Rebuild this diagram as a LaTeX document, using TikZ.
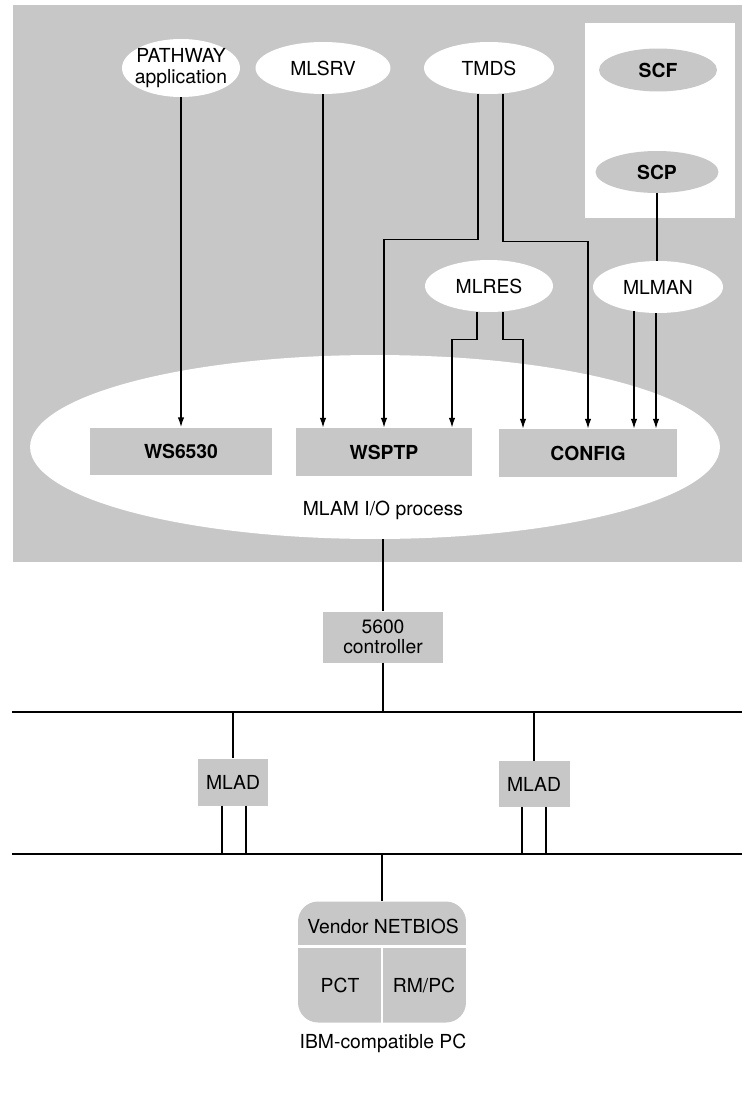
\documentclass[tikz,border=0pt]{standalone}
\usepackage{fontspec}
\setmainfont{TeX Gyre Heros}
\usetikzlibrary{arrows.meta,positioning,shapes.geometric,calc}
\definecolor{dither}{gray}{0.78}

\begin{document}
\begin{tikzpicture}[x=0.02cm, y=-0.02cm,
  font=\fontsize{11}{11.5}\selectfont,
  oval/.style={ellipse, fill=white, inner sep=0pt, align=center},
  gryoval/.style={ellipse, fill=dither, inner sep=0pt,
                  font=\fontsize{11}{11.5}\selectfont\bfseries},
  pbox/.style={rectangle, fill=dither, inner sep=0pt, align=center},
  heavy/.style={font=\fontsize{11}{11.5}\selectfont\bfseries},
  arr/.style={-{Latex[length=5.5pt,width=3.6pt]}, line width=0.7pt},
  wire/.style={line width=0.7pt},
  gap/.style={draw=white, line width=1.6pt}
]
\useasboundingbox (0,0) rectangle (742,1112);

% Host area
\fill[dither] (13,5) rectangle (742,562);
\fill[white] (585,23) rectangle (735,218);
\node[oval, minimum width=13.8cm, minimum height=3.68cm] (mlam) at (375,447) {};
\node (mlamlbl) at (383,510) {MLAM I/O process};

% Processes inside MLAM
\node[pbox, heavy, minimum width=3.64cm, minimum height=0.94cm] (ws)     at (181,451) {WS6530};
\node[pbox, heavy, minimum width=3.54cm, minimum height=0.96cm] (wsptp)  at (384,452) {WSPTP};
\node[pbox, heavy, minimum width=3.56cm, minimum height=0.96cm] (config) at (588,453) {CONFIG};

% Requesters and servers
\node[oval, inner xsep=-3.5pt, minimum width=2.36cm, minimum height=1.16cm] (pathway) at (181,68)
  {PATHWAY\\application};
\node[oval, minimum width=2.7cm, minimum height=1.04cm]  (mlsrv) at (323,68) {MLSRV};
\node[oval, minimum width=2.6cm, minimum height=1.04cm]  (tmds)  at (489,68) {TMDS};
\node[oval, minimum width=2.56cm, minimum height=1.04cm] (mlres) at (489,286) {MLRES};
\node[oval, minimum width=2.6cm, minimum height=1.04cm]  (mlman) at (658,287) {MLMAN};

% SCF / SCP
\node[gryoval, minimum width=2.36cm, minimum height=0.86cm] (scf) at (658,70) {SCF};
\node[gryoval, minimum width=2.46cm, minimum height=0.84cm] (scp) at (657,172) {SCP};

% Arrows
\draw[arr] (pathway.south) -- (ws.north);
\draw[arr] (mlsrv.south) -- (mlsrv.south |- wsptp.north);
\draw[arr] ($(tmds.south)+(-11,0)$) -- ++(0,145) -| (wsptp.north);
\draw[arr] ($(tmds.south)+(14,0)$) -- ++(0,147) -| (config.north);
\draw[arr] ($(mlres.south)+(-12,0)$) -- ++(0,27) -| ($(wsptp.north)+(68,0)$);
\draw[arr] ($(mlres.south)+(14,0)$) -- ++(0,27) -| ($(config.north)+(-65,0)$);
\draw[arr] ($(mlman.south)+(-24,-2)$) -- ($(config.north)+(46,0)$);
\draw[arr] ($(mlman.south)+(-2,0)$) -- ($(config.north)+(68,0)$);
\draw[wire] (scp.south) -- (scp.south |- mlman.north);

% Controller and buses
\node[pbox, minimum width=2.4cm, minimum height=1.02cm] (ctrl) at (383,637) {5600\\controller};
\draw[wire] (ctrl.north |- mlam.south) -- (ctrl.north);
\coordinate (bus1w) at (12,712);
\coordinate (bus1e) at (742,712);
\coordinate (bus2w) at (12,854);
\coordinate (bus2e) at (742,854);
\draw[wire] (bus1w) -- (bus1e);
\draw[wire] (bus2w) -- (bus2e);
\draw[wire] (ctrl.south) -- (ctrl.south |- bus1w);

% MLADs
\node[pbox, minimum width=1.4cm, minimum height=0.94cm]  (mlad1) at (233,782) {MLAD};
\node[pbox, minimum width=1.42cm, minimum height=0.92cm] (mlad2) at (534,784) {MLAD};
\draw[wire] (mlad1.north) -- (mlad1.north |- bus1w);
\draw[wire] (mlad2.north) -- (mlad2.north |- bus1w);
\draw[wire] ($(mlad1.south)+(-11,0)$) coordinate (m1a) -- (m1a |- bus2w);
\draw[wire] ($(mlad1.south)+(13,0)$) coordinate (m1b) -- (m1b |- bus2w);
\draw[wire] ($(mlad2.south)+(-12,0)$) coordinate (m2a) -- (m2a |- bus2w);
\draw[wire] ($(mlad2.south)+(12,0)$) coordinate (m2b) -- (m2b |- bus2w);

% PC
\node[pbox, rounded corners=0.4cm, minimum width=3.36cm, minimum height=2.42cm] (pc) at (382,962) {};
\draw[gap] ($(pc.north west)+(-1,45)$) -- ($(pc.north east)+(1,45)$);
\draw[gap] ($(pc.north)+(0,45)$) -- ($(pc.south)+(0,1)$);
\draw[wire] (pc.north) -- (pc.north |- bus2w);
\node (netbios) at (383,926) {Vendor NETBIOS};
\node (pct)     at (340,985) {PCT};
\node (rmpc)    at (424,985) {RM/PC};
\node (pclbl)   at (383,1043) {IBM-compatible PC};
\end{tikzpicture}
\end{document}
